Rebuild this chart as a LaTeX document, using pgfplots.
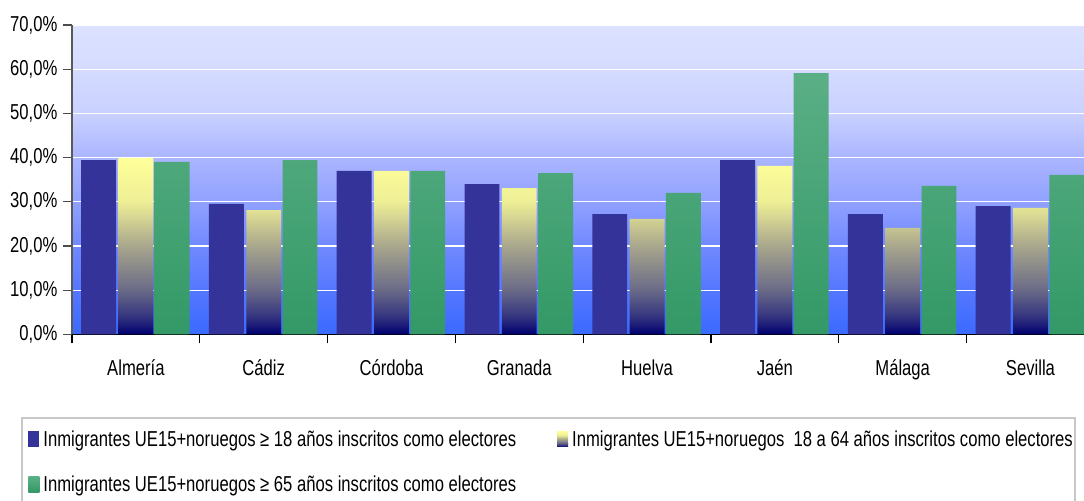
\documentclass[border=0pt]{standalone}
\usepackage{fontspec}
\setmainfont{Liberation Sans}[FakeStretch=0.77]
\usepackage{pgfplots}
\pgfplotsset{compat=1.18}

\definecolor{barblue}{HTML}{333399}
\definecolor{greentop}{HTML}{5BAF86}
\definecolor{greenbot}{HTML}{339966}
\definecolor{legframe}{HTML}{C8C8C8}

\pgfdeclareverticalshading{bgshade}{100bp}{%
  color(0bp)=(rgb,255:red,58;green,106;blue,255);
  color(25bp)=(rgb,255:red,58;green,106;blue,255);
  color(32.14bp)=(rgb,255:red,85;green,119;blue,255);
  color(39.29bp)=(rgb,255:red,113;green,137;blue,255);
  color(46.43bp)=(rgb,255:red,144;green,161;blue,255);
  color(53.57bp)=(rgb,255:red,171;green,181;blue,255);
  color(60.71bp)=(rgb,255:red,201;green,209;blue,255);
  color(67.86bp)=(rgb,255:red,212;green,219;blue,255);
  color(75bp)=(rgb,255:red,220;green,226;blue,255);
  color(100bp)=(rgb,255:red,220;green,226;blue,255)}

\pgfdeclareverticalshading{yelshade}{100bp}{%
  color(0bp)=(rgb,255:red,0;green,0;blue,112);
  color(25bp)=(rgb,255:red,0;green,0;blue,112);
  color(30bp)=(rgb,255:red,51;green,51;blue,127);
  color(37.5bp)=(rgb,255:red,106;green,106;blue,136);
  color(50bp)=(rgb,255:red,168;green,166;blue,140);
  color(62.5bp)=(rgb,255:red,238;green,238;blue,150);
  color(75bp)=(rgb,255:red,255;green,255;blue,153);
  color(100bp)=(rgb,255:red,255;green,255;blue,153)}

\begin{document}
\fontsize{10.8pt}{13pt}\selectfont
\begin{tikzpicture}[font=\fontsize{10.8pt}{13pt}\selectfont]
\useasboundingbox (0,0) rectangle (542pt,-250pt);
\draw[legframe, line width=0.6pt] (11pt,-209pt) rectangle (537.5pt,-262pt);
\begin{axis}[
  at={(36pt,-167.15pt)}, anchor=south west,
  scale only axis, width=511.2pt, height=154.65pt,
  xmin=-0.5, xmax=7.5, ymin=0, ymax=70,
  axis background/.style={shading=bgshade},
  axis lines*=left,
  x axis line style={black, line width=0.7pt},
  y axis line style={black!65, line width=0.7pt},
  tick align=outside,
  major tick length=4.5pt,
  ytick={0,10,...,70},
  ytick style={black!70, line width=0.6pt},
  xtick style={black, line width=0.6pt},
  yticklabel style={xshift=1pt, /pgf/number format/.cd, fixed, fixed zerofill, precision=1, use comma, assume math mode=true},
  yticklabel={\pgfmathprintnumber{\tick}\%},
  xtick={-0.5,0.5,...,7.5},
  x tick label as interval,
  xticklabels={Almería,Cádiz,Córdoba,Granada,Huelva,Jaén,Málaga,Sevilla},
  xticklabel style={yshift=-4.5pt},
  ymajorgrids,
  grid style={white, line width=0.6pt},
  ybar, bar width=0.273,
  legend columns=2,
  legend cell align=left,
  legend image code/.code={\path[#1] (0pt,-3.25pt) rectangle (5.5pt,4.5pt);},
  legend style={at={(-0.043,-0.298)}, anchor=north west, draw=none, fill=none,
    inner sep=0pt, row sep=9.2pt,
    /tikz/every even column/.append style={column sep=18.5pt}},
]
\addplot[draw=none, fill=barblue, bar shift=-0.292] coordinates {
  (0,39.4) (1,29.5) (2,37.0) (3,34.0) (4,27.2) (5,39.4) (6,27.2) (7,29.0)};
\addlegendentry{Inmigrantes UE15+noruegos ≥ 18 años inscritos como electores}
\addplot[draw=none, shading=yelshade, bar shift=0] coordinates {
  (0,39.9) (1,28.1) (2,37.0) (3,33.1) (4,26.1) (5,38.1) (6,24.1) (7,28.6)};
\addlegendentry{Inmigrantes UE15+noruegos\ \ 18 a 64 años inscritos como electores}
\addplot[draw=none, top color=greentop, bottom color=greenbot, bar shift=0.284] coordinates {
  (0,39.0) (1,39.4) (2,37.0) (3,36.5) (4,32.0) (5,59.1) (6,33.6) (7,36.1)};
\addlegendentry{Inmigrantes UE15+noruegos ≥ 65 años inscritos como electores}
\end{axis}
\end{tikzpicture}
\end{document}
